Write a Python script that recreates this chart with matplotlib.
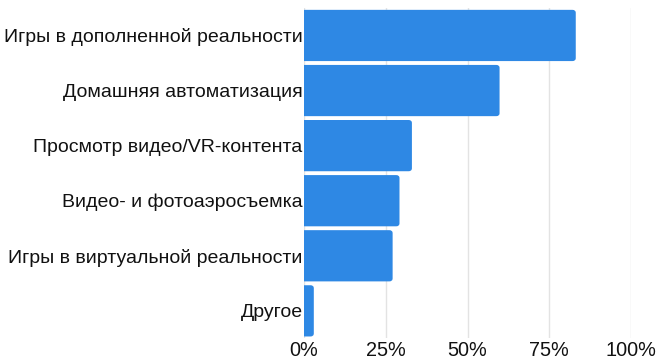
import matplotlib
matplotlib.use('Agg')
from matplotlib import pyplot as plt
from matplotlib.patches import FancyBboxPatch
from matplotlib.ticker import PercentFormatter

categories = ["Игры в дополненной реальности", "Домашняя автоматизация",
              "Просмотр видео/VR-контента", "Видео- и фотоаэросъемка",
              "Игры в виртуальной реальности", "Другое"]
values = [83.1, 59.8, 33.0, 29.2, 27.1, 3.0]
xticks = [0, 25, 50, 75, 100]

plt.rcParams['font.family'] = ['Liberation Sans', 'DejaVu Sans']

fig = plt.figure(figsize=(6.6, 3.6), dpi=100)
ax = fig.add_axes([0.4606, 0.06, 0.4955, 0.918])

ypos = list(range(len(categories)))
bars = ax.barh(ypos, values, height=0.93, color="#2E88E4", zorder=2)

# swap plain bars for ones with rounded ends (left end is hidden under x=0)
for b in bars:
    x, y = b.get_x(), b.get_y()
    w, h = b.get_width(), b.get_height()
    b.set_visible(False)
    p = FancyBboxPatch((x - 2, y), w + 2, h,
                       boxstyle="round,pad=0,rounding_size=1.0",
                       mutation_aspect=0.055,
                       facecolor="#2E88E4", edgecolor="none", zorder=2)
    ax.add_patch(p)

ax.set_yticks(ypos)
ax.set_yticklabels(categories, fontsize=14.0, color="#111111")
ax.set_ylim(len(categories) - 0.5, -0.5)

ax.set_xlim(0, 100)
ax.set_xticks(xticks)
ax.xaxis.set_major_formatter(PercentFormatter(decimals=0))
ax.tick_params(axis='x', labelsize=14.3, length=0, pad=2, colors="#111111")
ax.tick_params(axis='y', length=0, pad=1)
ax.grid(axis='x', color="#E3E3E3", linewidth=1, zorder=0)
for s in ax.spines.values():
    s.set_visible(False)

fig.savefig("out.png", dpi=100)
